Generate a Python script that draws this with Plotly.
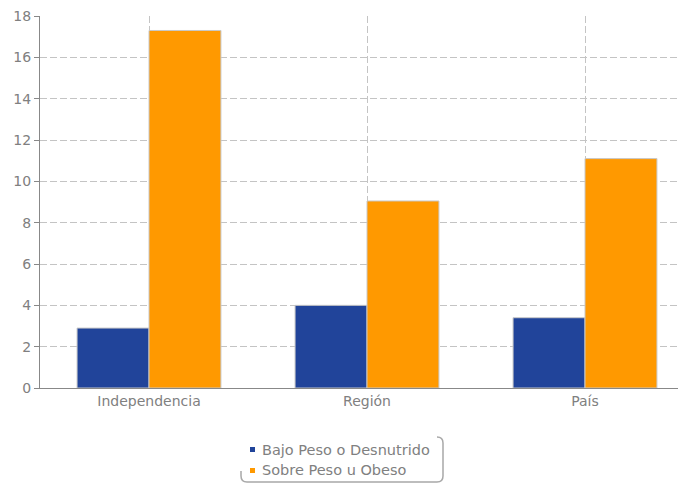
import plotly.graph_objects as go

categories = ["Independencia", "Región", "País"]
series_names = ["Bajo Peso o Desnutrido", "Sobre Peso u Obeso"]
bajo_peso = [2.9, 4.0, 3.4]
sobre_peso = [17.3, 9.05, 11.1]
y_ticks = [0, 2, 4, 6, 8, 10, 12, 14, 16, 18]
colors = ["#21449a", "#ff9900"]

# plot area in page pixels (page has an 8px body margin)
PL, PR, PT, PB = 40, 694, 16, 388
def px(p):
    return (p - PL) / (PR - PL)
def py(p):
    return (PB - p) / (PB - PT)

fig = go.Figure()
for name, vals, col in zip(series_names, [bajo_peso, sobre_peso], colors):
    fig.add_trace(go.Bar(x=categories, y=vals, name=name, showlegend=False,
                         marker=dict(color=col, line=dict(color="#c8c8c8", width=1))))

font = dict(family="DejaVu Sans", size=14, color="#808080")
legend_font = dict(family="DejaVu Sans", size=14.5, color="#808080")

shapes = []
annotations = []
# custom legend (small square markers + text + rounded shadow box)
rows_y = [449.5, 470.5]
for name, col, ry in zip(series_names, colors, rows_y):
    shapes.append(dict(type="rect", xref="paper", yref="paper",
                       x0=px(250), x1=px(255), y0=py(ry - 2.5), y1=py(ry + 2.5),
                       fillcolor=col, line=dict(width=0)))
    annotations.append(dict(xref="paper", yref="paper", x=px(260), y=py(ry),
                            xanchor="left", yanchor="middle", text=name,
                            showarrow=False, font=legend_font))
path = (f"M {px(437)},{py(437)} Q {px(443)},{py(437)} {px(443)},{py(443)} "
        f"L {px(443)},{py(476)} Q {px(443)},{py(482)} {px(437)},{py(482)} "
        f"L {px(247)},{py(482)} Q {px(241)},{py(482)} {px(241)},{py(476)} "
        f"L {px(241)},{py(471)}")
shapes.append(dict(type="path", xref="paper", yref="paper", path=path,
                   line=dict(color="#a8a8a8", width=1.5)))

fig.update_layout(
    width=686, height=487,
    margin=dict(l=32, r=0, t=8, b=107),
    paper_bgcolor="white", plot_bgcolor="white",
    barmode="group", bargap=0.34, bargroupgap=0,
    font=font,
    showlegend=False,
    shapes=shapes,
    annotations=annotations,
    xaxis=dict(range=[-0.5, 2.5], showline=True, linecolor="#888888", linewidth=1,
               showgrid=True, gridcolor="#c4c4c4", griddash="7px,3px", gridwidth=1,
               ticks="", tickfont=font, zeroline=False, automargin=False),
    yaxis=dict(range=[0, 18], tickvals=y_ticks, showline=True, linecolor="#888888", linewidth=1,
               ticks="outside", ticklen=5, tickcolor="#888888",
               showgrid=True, gridcolor="#c4c4c4", griddash="7px,3px", gridwidth=1,
               tickfont=font, zeroline=False, automargin=False,
               ticklabeloverflow="allow"),
)
fig.write_html("out.html")
